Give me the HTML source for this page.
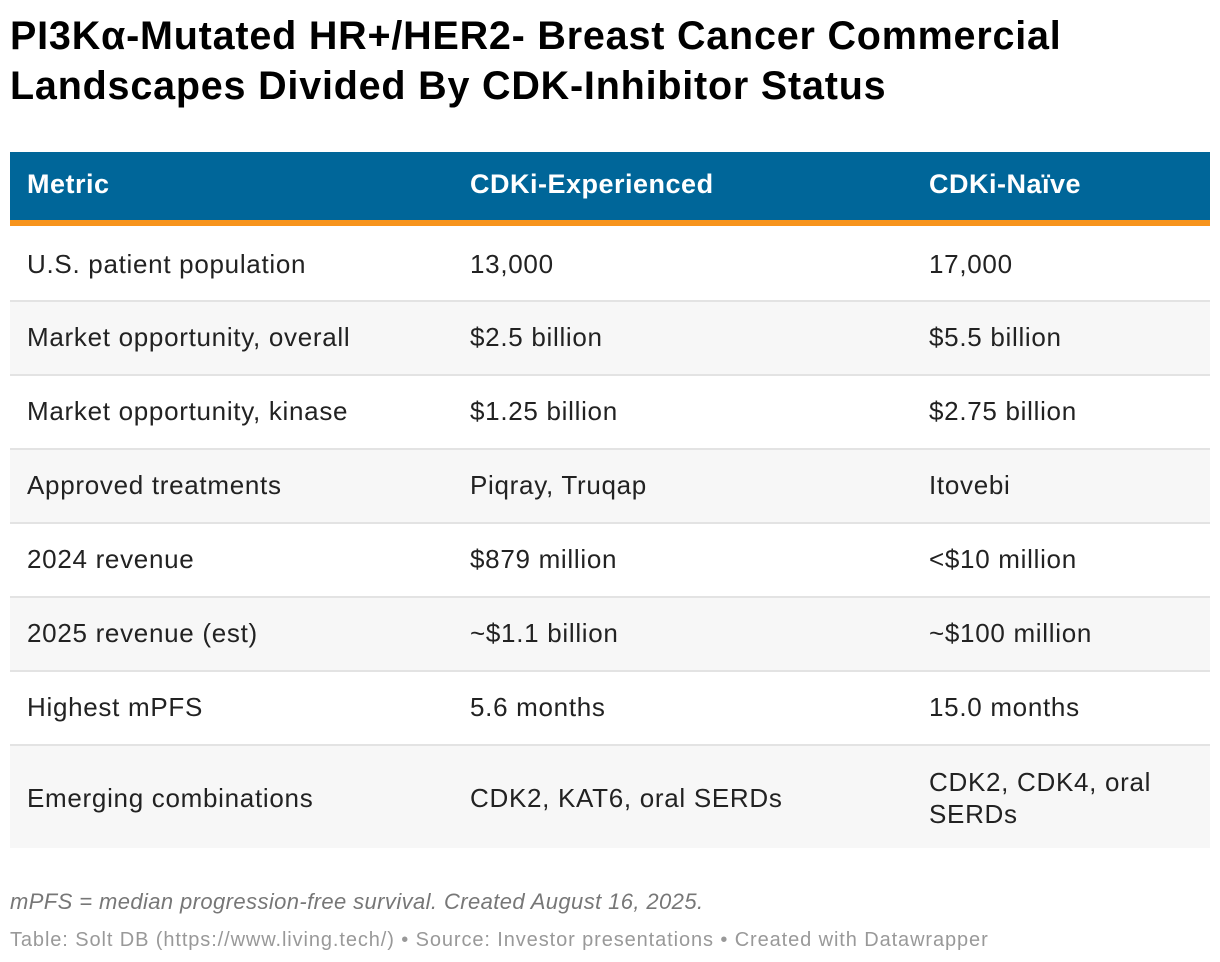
<!DOCTYPE html>
<html><head><meta charset="utf-8"><style>
body{margin:0;width:1220px;height:962px;background:#fff;font-family:"Liberation Sans",sans-serif;position:relative;overflow:hidden;color:#222}
.title{position:absolute;left:10px;top:11px;font-size:39.5px;font-weight:bold;line-height:50px;color:#000;letter-spacing:0.8px}
.hdr{position:absolute;left:10px;top:152px;width:1200px;height:68px;background:#006699;border-bottom:6px solid #f7941d}
.hdr span{position:absolute;top:17px;font-size:27px;font-weight:bold;color:#fff;letter-spacing:0.5px}
.row{position:absolute;left:10px;width:1200px;border-top:2px solid #e3e3e3;box-sizing:border-box}
.row span{position:absolute;font-size:26px;color:#222;line-height:32px;letter-spacing:0.7px}
.c1{left:17px}.c2{left:460px}.c3{left:919px}
.note{position:absolute;left:10px;top:889px;font-size:22px;font-style:italic;color:#777;letter-spacing:0.4px}
.src{position:absolute;left:10px;top:929px;font-size:20px;color:#999;letter-spacing:0.9px}
</style></head><body>
<div class="title">PI3Kα-Mutated HR+/HER2- Breast Cancer Commercial<br>Landscapes Divided By CDK-Inhibitor Status</div>
<div class="hdr">
<span style="left:17px">Metric</span>
<span style="left:460px">CDKi-Experienced</span>
<span style="left:919px">CDKi-Naïve</span>
</div>
<div id="rows"></div>
<div class="note">mPFS = median progression-free survival. Created August 16, 2025.</div>
<div class="src">Table: Solt DB (https://www.living.tech/) • Source: Investor presentations • Created with Datawrapper</div>
<script>
const metrics=["U.S. patient population","Market opportunity, overall","Market opportunity, kinase","Approved treatments","2024 revenue","2025 revenue (est)","Highest mPFS","Emerging combinations"];
const experienced=["13,000","$2.5 billion","$1.25 billion","Piqray, Truqap","$879 million","~$1.1 billion","5.6 months","CDK2, KAT6, oral SERDs"];
const naive=["17,000","$5.5 billion","$2.75 billion","Itovebi","<$10 million","~$100 million","15.0 months","CDK2, CDK4, oral<br>SERDs"];
const host=document.getElementById('rows');
metrics.forEach((m,i)=>{
  const r=document.createElement('div');
  r.className='row';
  
  
  const top=226+i*74, h=(i===7)?104:74;
  r.style.top=top+'px';r.style.height=h+'px';
  if(i===0)r.style.borderTop='none';
  r.style.background=(i%2===1)?'#f7f7f7':'#fff';
  const vals=[m,experienced[i],naive[i]];
  ['c1','c2','c3'].forEach((c,j)=>{
    const s=document.createElement('span');
    s.className=c;
    
    
    s.innerHTML=vals[j].replace('<$','&lt;$');
    const lines=(j===2&&i===7)?2:1;
    s.style.top=((h-(i===0?0:2))/2-lines*16-(i===0?0:2)+1+(i===7?2:0))+'px';
    r.appendChild(s);
  });
  host.appendChild(r);
});
</script>
</body></html>
